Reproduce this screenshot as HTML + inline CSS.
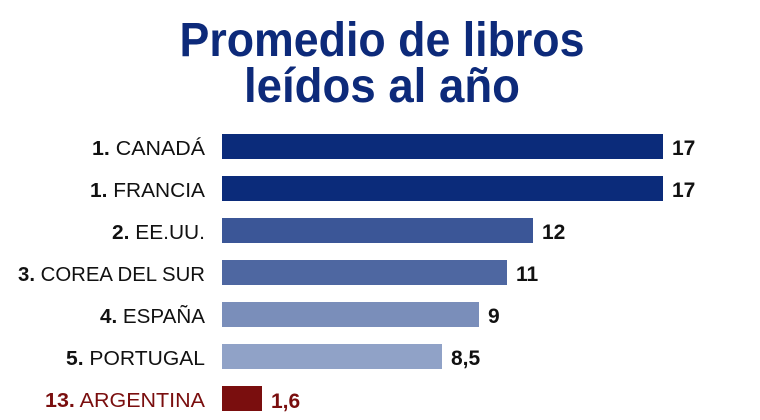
<!DOCTYPE html>
<html><head><meta charset="utf-8"><style>html,body{margin:0;padding:0;background:#fff;}svg{display:block}</style></head>
<body>
<svg width="760" height="420" viewBox="0 0 760 420" xmlns="http://www.w3.org/2000/svg">
<g font-family="Liberation Sans, sans-serif" font-weight="bold" fill="#0d2a7a" font-size="48">
<text x="382" y="56" text-anchor="middle" textLength="405" lengthAdjust="spacingAndGlyphs">Promedio de libros</text>
<text x="382" y="102" text-anchor="middle" textLength="276" lengthAdjust="spacingAndGlyphs">leídos al año</text>
</g>
<g>
<rect x="222" y="134" width="441" height="25" fill="#0b2b7a"/>
<rect x="222" y="176" width="441" height="25" fill="#0b2b7a"/>
<rect x="222" y="218" width="311" height="25" fill="#3b5697"/>
<rect x="222" y="260" width="285" height="25" fill="#4e67a1"/>
<rect x="222" y="302" width="257" height="25" fill="#7a8eba"/>
<rect x="222" y="344" width="220" height="25" fill="#90a2c7"/>
<rect x="222" y="386" width="40" height="25" fill="#7a0e0e"/>
</g>
<g font-family="Liberation Sans, sans-serif" font-size="21" font-weight="bold" fill="#111">
<text x="672" y="155">17</text>
<text x="672" y="197">17</text>
<text x="542" y="239">12</text>
<text x="516" y="281">11</text>
<text x="488" y="323">9</text>
<text x="451" y="365">8,5</text>
<text x="271" y="408" fill="#7a0e0e">1,6</text>
</g>
<g font-family="Liberation Sans, sans-serif" font-size="20" fill="#111" text-anchor="end">
<text x="205" y="155" textLength="113" lengthAdjust="spacingAndGlyphs"><tspan font-weight="bold">1.</tspan> CANADÁ</text>
<text x="205" y="197" textLength="115" lengthAdjust="spacingAndGlyphs"><tspan font-weight="bold">1.</tspan> FRANCIA</text>
<text x="205" y="239" textLength="93" lengthAdjust="spacingAndGlyphs"><tspan font-weight="bold">2.</tspan> EE.UU.</text>
<text x="205" y="281" textLength="187" lengthAdjust="spacingAndGlyphs"><tspan font-weight="bold">3.</tspan> COREA DEL SUR</text>
<text x="205" y="323" textLength="105" lengthAdjust="spacingAndGlyphs"><tspan font-weight="bold">4.</tspan> ESPAÑA</text>
<text x="205" y="365" textLength="139" lengthAdjust="spacingAndGlyphs"><tspan font-weight="bold">5.</tspan> PORTUGAL</text>
<text x="205" y="407" fill="#7a0e0e" textLength="160" lengthAdjust="spacingAndGlyphs"><tspan font-weight="bold">13.</tspan> ARGENTINA</text>
</g>
</svg>
</body></html>
